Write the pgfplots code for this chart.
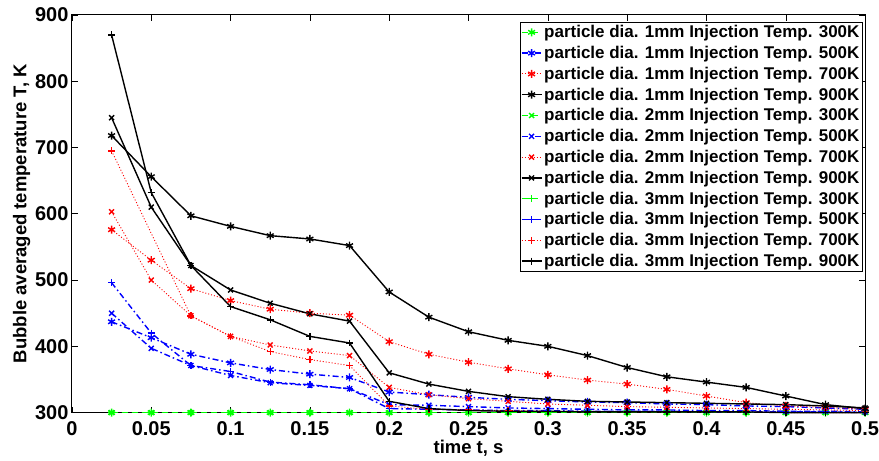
\documentclass[border=0pt]{standalone}
\usepackage{fontspec}
\setmainfont{Liberation Sans}
\usepackage{pgfplots}
\pgfplotsset{compat=1.18}

\pgfplotsset{
    g300/.style={green, dash pattern=on 6pt off 4pt, mark options={solid}},
    b500/.style={blue, dash pattern=on 6pt off 3pt on 1.5pt off 3pt, mark options={solid}},
    r700/.style={red, line width=0.9pt, dash pattern=on 1pt off 2pt, mark options={solid, line width=1.4pt}},
    k900/.style={black, solid},
}

\begin{document}
\begin{tikzpicture}
\begin{axis}[
    width=794pt, height=398pt,
    scale only axis,
    xmin=0, xmax=0.5,
    ymin=300, ymax=900,
    xtick={0,0.05,...,0.5},
    xticklabels={0,0.05,0.1,0.15,0.2,0.25,0.3,0.35,0.4,0.45,0.5},
    ytick={300,400,...,900},
    yticklabels={300,400,500,600,700,800,900},
    scaled x ticks=false,
    tick align=inside,
    major tick length=6pt,
    tick style={black, line width=0.6pt},
    axis line style={line width=1pt},
    xticklabel style={font=\fontsize{20}{22}\selectfont\bfseries, yshift=-5pt, inner xsep=0pt},
    yticklabel style={font=\fontsize{20}{22}\selectfont\bfseries},
    xlabel={time t, s},
    ylabel={Bubble averaged temperature T, K},
    label style={font=\fontsize{18.5}{21}\selectfont\bfseries},
    xlabel style={yshift=2pt},
    ylabel style={yshift=-2pt},
    clip=false,
    legend cell align=left,
    legend style={at={(rel axis cs:0.997,0.982)}, anchor=north east,
        font=\fontsize{17}{19}\selectfont\bfseries,
        draw=black, line width=0.6pt, inner sep=1pt, row sep=3pt},
    legend image code/.code={\draw[mark repeat=2,mark phase=2]
        plot coordinates {(0cm,0cm)(0.35cm,0cm)(0.7cm,0cm)};},
    every axis plot/.append style={line width=1.4pt},
]
% ---- 1mm (asterisk)
\addplot[g300, mark=asterisk, mark size=4pt] coordinates {
 (0.025,300)(0.05,300)(0.075,300)(0.1,300)(0.125,300)(0.15,300)(0.175,300)(0.2,300)(0.225,300)(0.25,300)
 (0.275,300)(0.3,300)(0.325,300)(0.35,300)(0.375,300)(0.4,300)(0.425,300)(0.45,300)(0.475,300)(0.5,300)};
\addlegendentry{particle dia. 1mm Injection Temp. 300K}
\addplot[b500, mark=asterisk, mark size=4pt] coordinates {
 (0.025,437)(0.05,413)(0.075,388)(0.1,375)(0.125,365)(0.15,358)(0.175,353)(0.2,331)(0.225,327)(0.25,323)
 (0.275,320)(0.3,318)(0.325,316)(0.35,315)(0.375,313)(0.4,312)(0.425,310)(0.45,309)(0.475,307)(0.5,305)};
\addlegendentry{particle dia. 1mm Injection Temp. 500K}
\addplot[r700, mark=asterisk, mark size=4pt] coordinates {
 (0.025,576)(0.05,530)(0.075,487)(0.1,469)(0.125,456)(0.15,450)(0.175,447)(0.2,407)(0.225,388)(0.25,376)
 (0.275,366)(0.3,357)(0.325,349)(0.35,343)(0.375,335)(0.4,325)(0.425,315)(0.45,310)(0.475,308)(0.5,305)};
\addlegendentry{particle dia. 1mm Injection Temp. 700K}
\addplot[k900, mark=asterisk, mark size=4pt] coordinates {
 (0.025,718)(0.05,656)(0.075,597)(0.1,581)(0.125,567)(0.15,562)(0.175,552)(0.2,482)(0.225,444)(0.25,422)
 (0.275,409)(0.3,400)(0.325,386)(0.35,368)(0.375,354)(0.4,346)(0.425,338)(0.45,325)(0.475,312)(0.5,306)};
\addlegendentry{particle dia. 1mm Injection Temp. 900K}
% ---- 2mm (x)
\addplot[g300, mark=x, mark size=3.5pt] coordinates {
 (0.025,300)(0.05,300)(0.075,300)(0.1,300)(0.125,300)(0.15,300)(0.175,300)(0.2,300)(0.225,300)(0.25,300)
 (0.275,300)(0.3,300)(0.325,300)(0.35,300)(0.375,300)(0.4,300)(0.425,300)(0.45,300)(0.475,300)(0.5,300)};
\addlegendentry{particle dia. 2mm Injection Temp. 300K}
\addplot[b500, mark=x, mark size=3.5pt] coordinates {
 (0.025,450)(0.05,397)(0.075,371)(0.1,356)(0.125,345)(0.15,341)(0.175,336)(0.2,312)(0.225,311)(0.25,309)
 (0.275,307)(0.3,306)(0.325,305)(0.35,304)(0.375,304)(0.4,303)(0.425,303)(0.45,302)(0.475,302)(0.5,301)};
\addlegendentry{particle dia. 2mm Injection Temp. 500K}
\addplot[r700, mark=x, mark size=3.5pt] coordinates {
 (0.025,603)(0.05,500)(0.075,446)(0.1,415)(0.125,402)(0.15,393)(0.175,386)(0.2,338)(0.225,327)(0.25,321)
 (0.275,317)(0.3,313)(0.325,311)(0.35,309)(0.375,308)(0.4,307)(0.425,306)(0.45,305)(0.475,304)(0.5,303)};
\addlegendentry{particle dia. 2mm Injection Temp. 700K}
\addplot[k900, mark=x, mark size=3.5pt] coordinates {
 (0.025,745)(0.05,610)(0.075,522)(0.1,485)(0.125,465)(0.15,449)(0.175,438)(0.2,360)(0.225,343)(0.25,332)
 (0.275,324)(0.3,320)(0.325,317)(0.35,316)(0.375,315)(0.4,314)(0.425,313)(0.45,312)(0.475,310)(0.5,307)};
\addlegendentry{particle dia. 2mm Injection Temp. 900K}
% ---- 3mm (+)
\addplot[g300, mark=+, mark size=3.5pt] coordinates {
 (0.025,300)(0.05,300)(0.075,300)(0.1,300)(0.125,300)(0.15,300)(0.175,300)(0.2,300)(0.225,300)(0.25,300)
 (0.275,300)(0.3,300)(0.325,300)(0.35,300)(0.375,300)(0.4,300)(0.425,300)(0.45,300)(0.475,300)(0.5,300)};
\addlegendentry{particle dia. 3mm Injection Temp. 300K}
\addplot[b500, mark=+, mark size=3.5pt] coordinates {
 (0.025,496)(0.05,420)(0.075,371)(0.1,362)(0.125,346)(0.15,342)(0.175,336)(0.2,306)(0.225,305)(0.25,304)
 (0.275,303)(0.3,303)(0.325,302)(0.35,302)(0.375,302)(0.4,301)(0.425,301)(0.45,301)(0.475,301)(0.5,300)};
\addlegendentry{particle dia. 3mm Injection Temp. 500K}
\addplot[r700, mark=+, mark size=3.5pt] coordinates {
 (0.025,695)(0.075,446)(0.1,415)(0.125,392)(0.15,380)(0.175,371)(0.2,310)(0.225,305)(0.25,304)
 (0.275,303)(0.3,302)(0.325,302)(0.35,301)(0.375,301)(0.4,301)(0.425,301)(0.45,300)(0.475,300)(0.5,300)};
\addlegendentry{particle dia. 3mm Injection Temp. 700K}
\addplot[k900, mark=+, mark size=3.5pt] coordinates {
 (0.025,870)(0.05,632)(0.075,522)(0.1,460)(0.125,440)(0.15,415)(0.175,405)(0.2,317)(0.225,306)(0.25,303)
 (0.275,302)(0.3,302)(0.325,301)(0.35,301)(0.375,301)(0.4,301)(0.425,301)(0.45,300)(0.475,300)(0.5,300)};
\addlegendentry{particle dia. 3mm Injection Temp. 900K}
% page frame matching the reference margins
\path (rel axis cs:0,0) ++(-72pt,-48pt) rectangle ++(879pt,461pt);
\end{axis}
\end{tikzpicture}
\end{document}
